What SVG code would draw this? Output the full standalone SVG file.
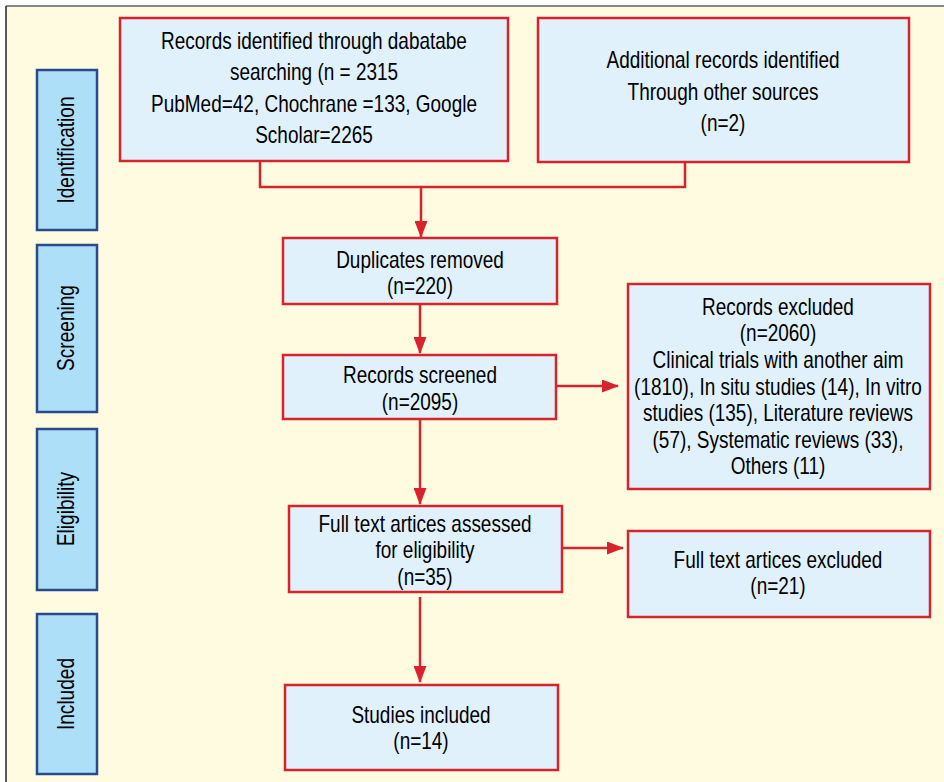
<svg xmlns="http://www.w3.org/2000/svg" width="944" height="782" viewBox="0 0 944 782">
<defs>
<marker id="ah" markerWidth="17" markerHeight="13" refX="16" refY="6.5" orient="auto" markerUnits="userSpaceOnUse">
<path d="M0,0 L17,6.5 L0,13 Z" fill="#D8232D"/>
</marker>
<style>
.bg{fill:#FFFBE1}
.box{fill:#E0F1FB;stroke:#D8232D;stroke-width:2.5}
.stage{fill:#AEDFF8;stroke:#2A4A8E;stroke-width:2.5}
.t{font-family:"Liberation Sans",Arial,sans-serif;font-size:23px;fill:#000;text-anchor:middle}
.c{fill:none;stroke:#D8232D;stroke-width:2.5}
</style>
</defs>
<rect x="0" y="0" width="944" height="782" fill="#ffffff"/>
<rect class="bg" x="6" y="6" width="938" height="776"/>
<line x1="6" y1="6" x2="944" y2="6" stroke="#888" stroke-width="2"/>
<line x1="6" y1="6" x2="6" y2="782" stroke="#222" stroke-width="1.5"/>

<g id="stage-identification"><rect class="stage" x="37" y="70" width="60" height="160"/><text class="t" transform="translate(74,150) rotate(-90) scale(0.83,1)">Identification</text></g>
<g id="stage-screening"><rect class="stage" x="37" y="245" width="60" height="167"/><text class="t" transform="translate(74,328) rotate(-90) scale(0.83,1)">Screening</text></g>
<g id="stage-eligibility"><rect class="stage" x="37" y="429" width="60" height="161"/><text class="t" transform="translate(74,509) rotate(-90) scale(0.83,1)">Eligibility</text></g>
<g id="stage-included"><rect class="stage" x="37" y="614" width="60" height="160"/><text class="t" transform="translate(74,694) rotate(-90) scale(0.83,1)">Included</text></g>

<g id="connectors">
<path class="c" d="M260,162 V187 H685 V162"/>
<path class="c" d="M421,187 V237" marker-end="url(#ah)"/>
<path class="c" d="M420,304 V353" marker-end="url(#ah)"/>
<path class="c" d="M556,386 H618" marker-end="url(#ah)"/>
<path class="c" d="M420,419 V504" marker-end="url(#ah)"/>
<path class="c" d="M562,548 H623" marker-end="url(#ah)"/>
<path class="c" d="M420,597 V682" marker-end="url(#ah)"/>
</g>

<g id="records-identified"><rect class="box" x="120" y="18" width="388" height="143"/>
<g transform="translate(314,0) scale(0.825,1)">
<text class="t" x="0" y="49">Records identified through dabatabe</text>
<text class="t" x="0" y="80">searching (n = 2315</text>
<text class="t" x="0" y="112">PubMed=42, Chochrane =133, Google</text>
<text class="t" x="0" y="143">Scholar=2265</text></g></g>

<g id="additional-records"><rect class="box" x="538" y="18" width="371" height="144"/>
<g transform="translate(723,0) scale(0.825,1)">
<text class="t" x="0" y="68">Additional records identified</text>
<text class="t" x="0" y="100">Through other sources</text>
<text class="t" x="0" y="131">(n=2)</text></g></g>

<g id="duplicates"><rect class="box" x="283" y="238" width="274" height="66"/>
<g transform="translate(420,0) scale(0.825,1)">
<text class="t" x="0" y="268">Duplicates removed</text>
<text class="t" x="0" y="294">(n=220)</text></g></g>

<g id="screened"><rect class="box" x="283" y="355" width="273" height="64"/>
<g transform="translate(420,0) scale(0.825,1)">
<text class="t" x="0" y="383">Records screened</text>
<text class="t" x="0" y="410">(n=2095)</text></g></g>

<g id="records-excluded"><rect class="box" x="628" y="284" width="302" height="205"/>
<g transform="translate(778,0) scale(0.825,1)">
<text class="t" x="0" y="315">Records excluded</text>
<text class="t" x="0" y="341">(n=2060)</text>
<text class="t" x="0" y="368">Clinical trials with another aim</text>
<text class="t" x="0" y="395">(1810), In situ studies (14), In vitro</text>
<text class="t" x="0" y="421">studies (135), Literature reviews</text>
<text class="t" x="0" y="448">(57), Systematic reviews (33),</text>
<text class="t" x="0" y="474">Others (11)</text></g></g>

<g id="full-text-assessed"><rect class="box" x="289" y="506" width="273" height="86"/>
<g transform="translate(425,0) scale(0.825,1)">
<text class="t" x="0" y="532">Full text artices assessed</text>
<text class="t" x="0" y="558">for eligibility</text>
<text class="t" x="0" y="585">(n=35)</text></g></g>

<g id="full-text-excluded"><rect class="box" x="628" y="531" width="302" height="86"/>
<g transform="translate(778,0) scale(0.825,1)">
<text class="t" x="0" y="568">Full text artices excluded</text>
<text class="t" x="0" y="594">(n=21)</text></g></g>

<g id="studies-included"><rect class="box" x="285" y="685" width="273" height="85"/>
<g transform="translate(421,0) scale(0.825,1)">
<text class="t" x="0" y="723">Studies included</text>
<text class="t" x="0" y="749">(n=14)</text></g></g>
</svg>
